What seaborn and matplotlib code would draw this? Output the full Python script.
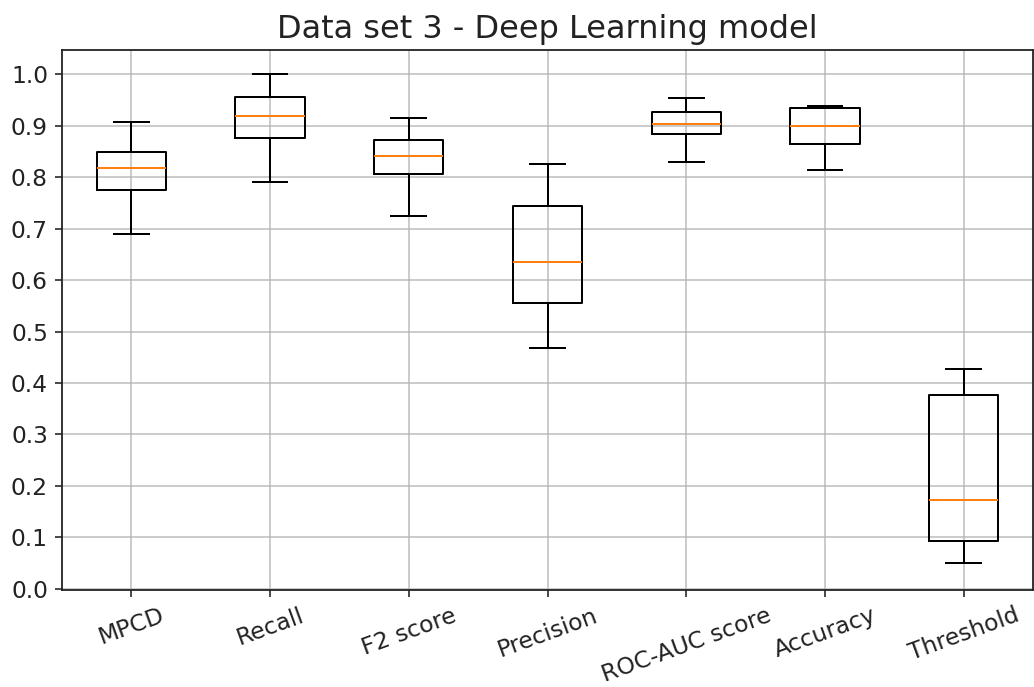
import matplotlib
matplotlib.use("Agg")
import matplotlib.pyplot as plt
import seaborn as sns
import pandas as pd

# Categories and five-number summaries
metrics = ["MPCD", "Recall", "F2 score", "Precision", "ROC-AUC score", "Accuracy", "Threshold"]
mpcd = [0.690, 0.775, 0.818, 0.849, 0.907]
recall = [0.791, 0.876, 0.919, 0.957, 1.000]
f2_score = [0.725, 0.806, 0.841, 0.872, 0.915]
precision = [0.469, 0.555, 0.636, 0.745, 0.826]
roc_auc = [0.830, 0.884, 0.903, 0.926, 0.954]
accuracy = [0.814, 0.865, 0.900, 0.934, 0.938]
threshold = [0.050, 0.092, 0.173, 0.377, 0.427]
yticks = [0.0, 0.1, 0.2, 0.3, 0.4, 0.5, 0.6, 0.7, 0.8, 0.9, 1.0]

series = [mpcd, recall, f2_score, precision, roc_auc, accuracy, threshold]
rows = []
for name, vals in zip(metrics, series):
    for v in vals:
        rows.append({"metric": name, "value": v})
df = pd.DataFrame(rows)

fig = plt.figure(figsize=(1034 / 144, 687 / 144), dpi=144)
ax = fig.add_axes([62 / 1034, 1 - 590 / 687, (1033 - 62) / 1034, (590 - 50) / 687])

sns.boxplot(
    data=df, x="metric", y="value", order=metrics, ax=ax,
    fill=False, color="black", linecolor="black", linewidth=1.0, width=0.5,
    whis=1.5, showfliers=False,
    medianprops={"color": "#ff7f0e", "linewidth": 1.0},
)

ax.set_xlim(-0.5, len(metrics) - 0.5)
ax.set_ylim(-0.0025, 1.0475)
ax.set_yticks(yticks)
ax.set_yticklabels([f"{t:.1f}" for t in yticks])
ax.set_xlabel("")
ax.set_ylabel("")
ax.grid(True, color="#b0b0b0", linewidth=0.8, alpha=0.8)
ax.set_axisbelow(True)
for s in ax.spines.values():
    s.set_visible(True)
    s.set_color("#222222")
    s.set_linewidth(0.9)
plt.setp(ax.get_xticklabels(), rotation=20)
ax.tick_params(labelsize=11.7, colors="#222222", labelcolor="#222222")
ax.set_title("Data set 3 - Deep Learning model", fontsize=16, color="#222222")

fig.savefig("out.png", dpi=144)
